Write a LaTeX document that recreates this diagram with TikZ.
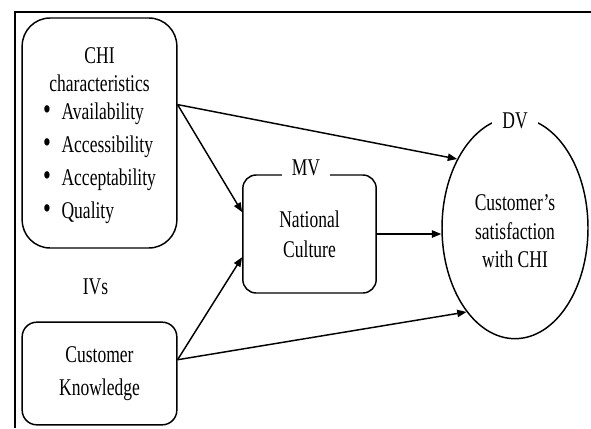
\documentclass[tikz,border=0pt]{standalone}
\usepackage{fontspec}
\setmainfont[FakeStretch=0.73]{Liberation Serif}
\usetikzlibrary{shapes.geometric, arrows.meta, positioning, calc}
\renewcommand{\arraystretch}{1.16}
\newcommand{\dotmark}{{\fontsize{23}{0}\selectfont\textbullet}}

\begin{document}
\begin{tikzpicture}[x=0.75pt, y=-0.75pt, >={Triangle[length=7pt, width=5.5pt]},
                font=\fontsize{18}{21.4}\selectfont,
                ivbox/.style={rectangle, draw, line width=1.1pt, inner sep=0pt, text centered, align=center},
                dvoval/.style={ellipse, draw, line width=1.1pt, inner sep=0pt, align=center, minimum width=109.5pt, minimum height=166pt},
                tag/.style={fill=white, inner xsep=7.5pt, inner ysep=1pt},
                arrow/.style={->, line width=1.1pt}]
                \useasboundingbox (0,0) rectangle (591,428);
                \draw[line width=1.5pt] (15,428) -- (15,12) -- (591,12);

                \node[ivbox, minimum width=116pt, minimum height=172.5pt, rounded corners=21pt] (chi) at (99.5,133)
                    {\rule{0pt}{19.5pt}CHI\\characteristics\\[-0.5pt]\begin{tabular}[t]{@{}l@{\hspace{8pt}}l@{}}
                     \dotmark & Availability\\ \dotmark & Accessibility\\
                     \dotmark & Acceptability\\ \dotmark & Quality\end{tabular}};
                \node[ivbox, minimum width=116pt, minimum height=77pt, rounded corners=11pt] (ck) at (99.5,373.5) {Customer\\[3.3pt]Knowledge};
                \node at ($(chi.south)!0.5!(ck.north)+(-4,2)$) (ivs) {IVs};
                \node[ivbox, minimum width=100pt, minimum height=88.5pt, rounded corners=10pt] (mv) at (309.5,234) {National\\[1pt]Culture};
                \node[tag] (mvtag) at ($(mv.north)+(-3.5,-6)$) {MV};
                \node[dvoval] (dv) at (515,228) {\rule{0pt}{17pt}Customer's\\satisfaction\\with CHI};
                \node[tag] (dvtag) at ($(dv.north)+(0,4.5)$) {DV};

                \draw[arrow] (chi.20) -- (dv.130);
                \draw[arrow] (chi.20) -- (mv.162);
                \draw[arrow] (mv.east) -- (mv.east -| dv.west);
                \draw[arrow] (ck.10) -- (mv.199);
                \draw[arrow] (ck.10) -- (dv.240);
            \end{tikzpicture}
\end{document}
